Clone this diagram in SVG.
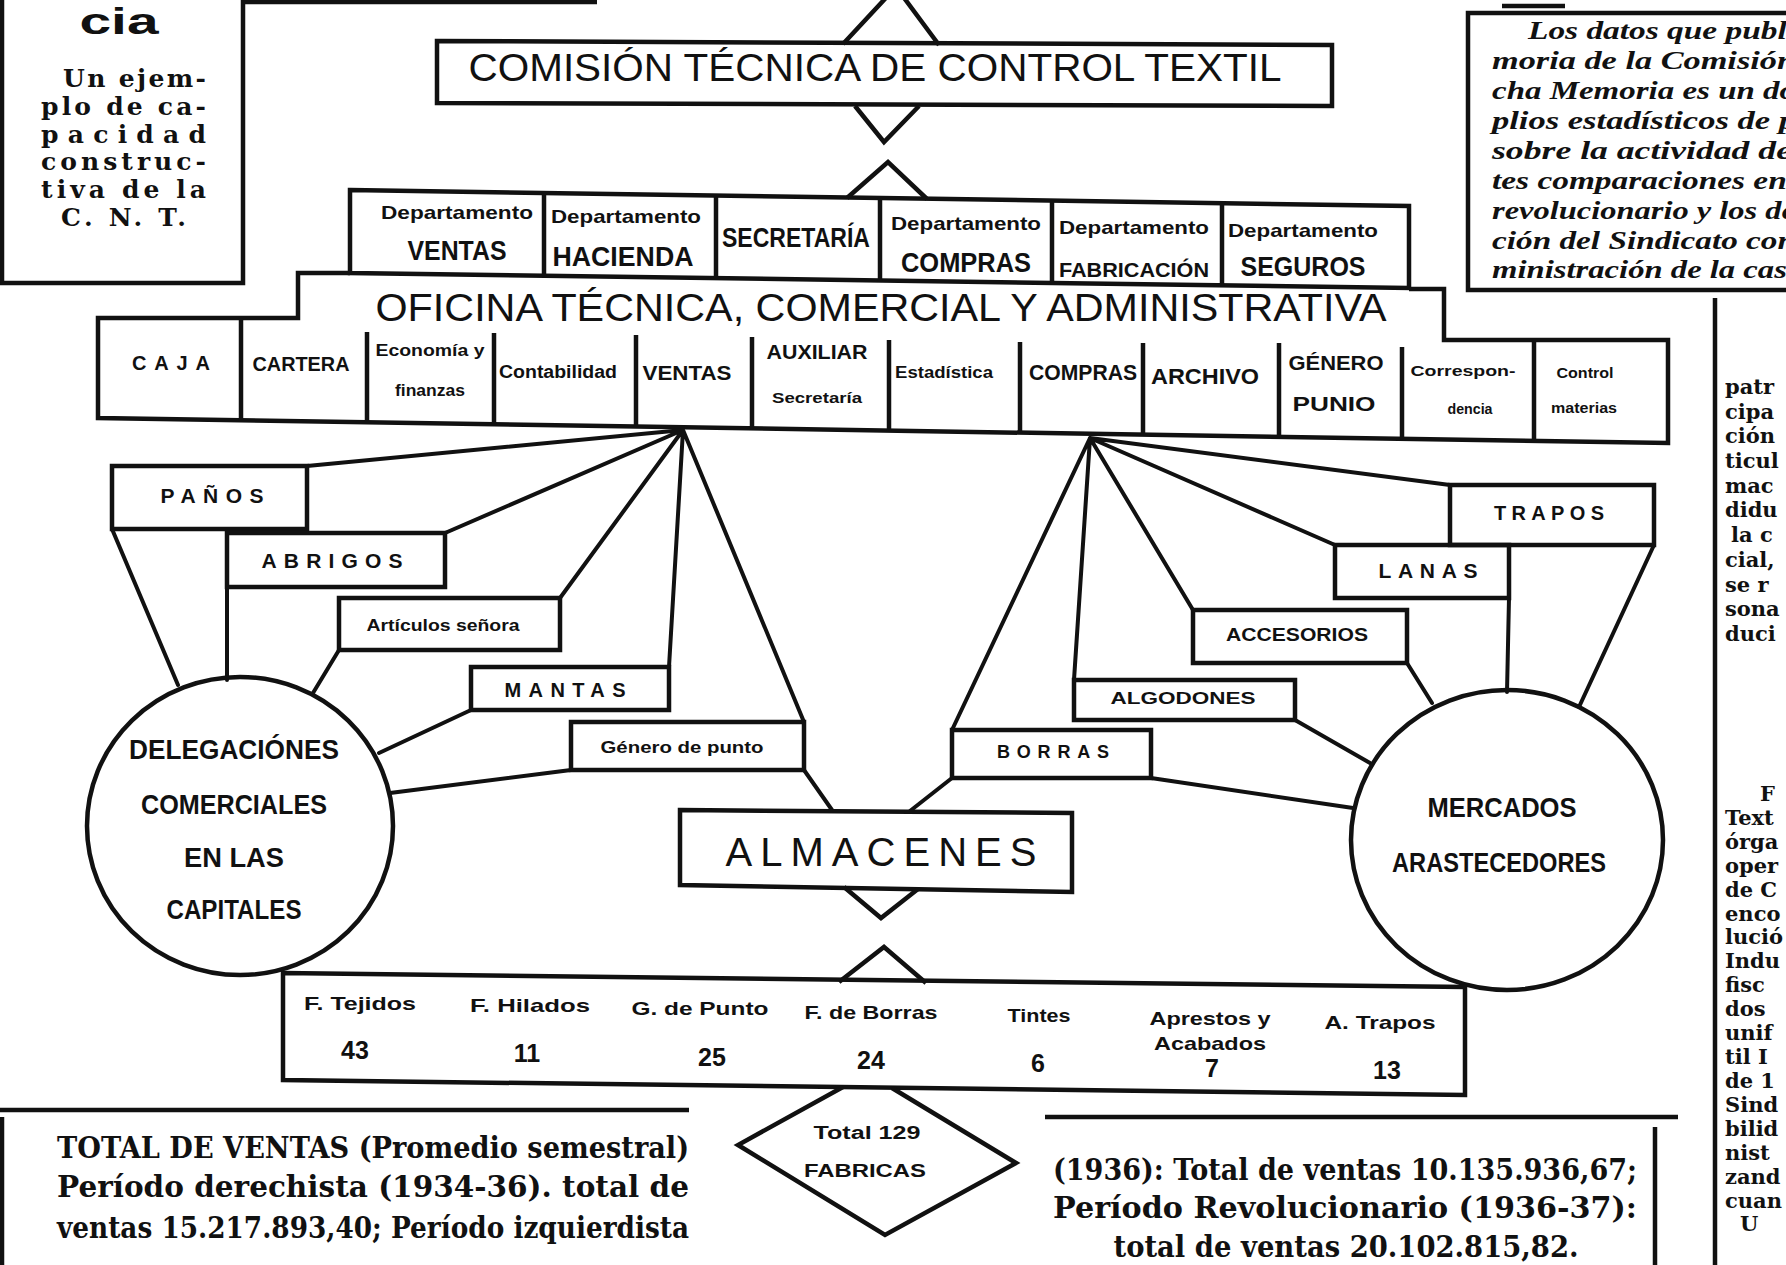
<svg xmlns="http://www.w3.org/2000/svg" width="1786" height="1265" viewBox="0 0 1786 1265">
<defs><style>
.bx{fill:none;stroke:#111;stroke-width:4.5;stroke-linejoin:miter}
.ln{fill:none;stroke:#111;stroke-width:4;stroke-linecap:round}
text{fill:#111;text-anchor:middle;dominant-baseline:central}
.sa{font-family:"Liberation Sans",Arial,sans-serif}
.sb{font-family:"Liberation Sans",Arial,sans-serif;font-weight:bold}
.se{font-family:"DejaVu Serif","Liberation Serif",serif;font-weight:bold}
.it{font-family:"Liberation Serif",serif;font-weight:bold;font-style:italic;text-anchor:start}
.st{text-anchor:start}
</style></defs>
<rect width="1786" height="1265" fill="#fff"/>

<g id="sidebar-left">
<path class="bx" d="M2,0 V283 H243 V0"/>
<path class="bx" d="M243,2 H597"/>
<text class="sb" x="119" y="21" font-size="37" textLength="79" lengthAdjust="spacingAndGlyphs">cia</text>
<g class="se st" font-size="25">
<text class="se st" x="63" y="78" textLength="143" lengthAdjust="spacing">Un ejem-</text>
<text class="se st" x="41" y="106" textLength="165" lengthAdjust="spacing">plo de ca-</text>
<text class="se st" x="41" y="134" textLength="165" lengthAdjust="spacing">pacidad</text>
<text class="se st" x="41" y="161" textLength="165" lengthAdjust="spacing">construc-</text>
<text class="se st" x="41" y="189" textLength="165" lengthAdjust="spacing">tiva de la</text>
<text class="se st" x="61" y="217" textLength="125" lengthAdjust="spacing">C. N. T.</text>
</g>
</g>

<g id="sidebar-right">
<path class="bx" d="M1786,13 H1468 V290 H1786" stroke-width="5"/>
<path class="bx" d="M1502,6 H1565" stroke-width="3"/>
<g font-size="26">
<text class="it" x="1528" y="30" textLength="268" lengthAdjust="spacingAndGlyphs">Los datos que publi</text>
<text class="it" x="1492" y="60" textLength="304" lengthAdjust="spacingAndGlyphs">moria de la Comisión</text>
<text class="it" x="1492" y="90" textLength="304" lengthAdjust="spacingAndGlyphs">cha Memoria es un do</text>
<text class="it" x="1492" y="120" textLength="304" lengthAdjust="spacingAndGlyphs">plios estadísticos de p</text>
<text class="it" x="1492" y="150" textLength="300" lengthAdjust="spacingAndGlyphs">sobre la actividad de</text>
<text class="it" x="1492" y="180" textLength="304" lengthAdjust="spacingAndGlyphs">tes comparaciones ent</text>
<text class="it" x="1492" y="210" textLength="304" lengthAdjust="spacingAndGlyphs">revolucionario y los de</text>
<text class="it" x="1492" y="240" textLength="304" lengthAdjust="spacingAndGlyphs">ción del Sindicato con</text>
<text class="it" x="1492" y="269" textLength="304" lengthAdjust="spacingAndGlyphs">ministración de la cast</text>
</g>
</g>

<g id="column-right">
<path class="bx" d="M1715,298 V1265"/>
<g font-size="21">
<text class="se st" x="1725" y="386">patr</text>
<text class="se st" x="1725" y="411">cipa</text>
<text class="se st" x="1725" y="435">ción</text>
<text class="se st" x="1725" y="460">ticul</text>
<text class="se st" x="1725" y="485">mac</text>
<text class="se st" x="1725" y="509">didu</text>
<text class="se st" x="1731" y="534">la c</text>
<text class="se st" x="1725" y="559">cial,</text>
<text class="se st" x="1725" y="584">se r</text>
<text class="se st" x="1725" y="608">sona</text>
<text class="se st" x="1725" y="633">duci</text>
<text class="se st" x="1760" y="793">F</text>
<text class="se st" x="1725" y="817">Text</text>
<text class="se st" x="1725" y="841">órga</text>
<text class="se st" x="1725" y="865">oper</text>
<text class="se st" x="1725" y="889">de C</text>
<text class="se st" x="1725" y="913">enco</text>
<text class="se st" x="1725" y="936">lució</text>
<text class="se st" x="1725" y="960">Indu</text>
<text class="se st" x="1725" y="984">fisc</text>
<text class="se st" x="1725" y="1008">dos</text>
<text class="se st" x="1725" y="1032">unif</text>
<text class="se st" x="1725" y="1056">til I</text>
<text class="se st" x="1725" y="1080">de 1</text>
<text class="se st" x="1725" y="1104">Sind</text>
<text class="se st" x="1725" y="1128">bilid</text>
<text class="se st" x="1725" y="1152">nist</text>
<text class="se st" x="1725" y="1176">zand</text>
<text class="se st" x="1725" y="1200">cuan</text>
<text class="se st" x="1740" y="1223">U</text>
</g>
</g>

<g id="comision">
<path class="bx" d="M843,44 L896,-13 L939,45"/>
<path class="bx" d="M437,41 L1332,45 L1332,106 L437,103 Z"/>
<path class="bx" d="M855,106 L884,142 L919,106"/>
<text class="sa" x="875" y="68" font-size="38" textLength="813" lengthAdjust="spacingAndGlyphs">COMISIÓN TÉCNICA DE CONTROL TEXTIL</text>
</g>

<g id="departamentos">
<path class="bx" d="M847,198 L888,162 L927,199"/>
<path class="bx" d="M350,190 L1409,206 L1409,288 L350,273 Z"/>
<path class="bx" d="M544,193 V276 M716,196 V278 M880,198 V281 M1052,201 V283 M1222,203 V285"/>
<g class="sb">
<text x="457" y="212" font-size="19" textLength="152" lengthAdjust="spacingAndGlyphs">Departamento</text>
<text class="sa" x="457" y="251" font-size="27" textLength="99" lengthAdjust="spacingAndGlyphs">VENTAS</text>
<text x="626" y="216" font-size="19" textLength="150" lengthAdjust="spacingAndGlyphs">Departamento</text>
<text class="sa" x="623" y="257" font-size="27" textLength="141" lengthAdjust="spacingAndGlyphs">HACIENDA</text>
<text class="sa" x="796" y="238" font-size="27" textLength="148" lengthAdjust="spacingAndGlyphs">SECRETARÍA</text>
<text x="966" y="223" font-size="19" textLength="150" lengthAdjust="spacingAndGlyphs">Departamento</text>
<text class="sa" x="966" y="263" font-size="27" textLength="130" lengthAdjust="spacingAndGlyphs">COMPRAS</text>
<text x="1134" y="227" font-size="19" textLength="150" lengthAdjust="spacingAndGlyphs">Departamento</text>
<text class="sa" x="1134" y="269" font-size="21" textLength="150" lengthAdjust="spacingAndGlyphs">FABRICACIÓN</text>
<text x="1303" y="230" font-size="19" textLength="150" lengthAdjust="spacingAndGlyphs">Departamento</text>
<text class="sa" x="1303" y="267" font-size="27" textLength="125" lengthAdjust="spacingAndGlyphs">SEGUROS</text>
</g>
</g>

<g id="oficina">
<path class="bx" d="M350,273 H298 V318 H98 V418 L1668,443 V340 H1444 V289 H1409"/>
<text class="sa" x="881" y="307" font-size="39" textLength="1011" lengthAdjust="spacingAndGlyphs">OFICINA TÉCNICA, COMERCIAL Y ADMINISTRATIVA</text>
<path class="bx" d="M241,319 V420 M367,332 V422 M494,333 V424 M636,335 V427 M752,337 V428 M889,340 V431 M1020,342 V433 M1143,343 V435 M1279,343 V437 M1402,347 V439 M1534,342 V441"/>
<g class="sb">
<text x="171" y="363" font-size="20" textLength="78" lengthAdjust="spacing">CAJA</text>
<text x="301" y="363" font-size="21" textLength="97" lengthAdjust="spacingAndGlyphs">CARTERA</text>
<text x="430" y="350" font-size="17" textLength="109" lengthAdjust="spacingAndGlyphs">Economía y</text>
<text x="430" y="390" font-size="16" textLength="70" lengthAdjust="spacingAndGlyphs">finanzas</text>
<text x="558" y="372" font-size="18" textLength="118" lengthAdjust="spacingAndGlyphs">Contabilidad</text>
<text x="687" y="372" font-size="21" textLength="89" lengthAdjust="spacingAndGlyphs">VENTAS</text>
<text x="817" y="352" font-size="20" textLength="101" lengthAdjust="spacingAndGlyphs">AUXILIAR</text>
<text x="817" y="397" font-size="15" textLength="90" lengthAdjust="spacingAndGlyphs">Secretaría</text>
<text x="944" y="372" font-size="16" textLength="98" lengthAdjust="spacingAndGlyphs">Estadística</text>
<text x="1083" y="372" font-size="22" textLength="108" lengthAdjust="spacingAndGlyphs">COMPRAS</text>
<text x="1205" y="376" font-size="22" textLength="108" lengthAdjust="spacingAndGlyphs">ARCHIVO</text>
<text x="1336" y="362" font-size="21" textLength="95" lengthAdjust="spacingAndGlyphs">GÉNERO</text>
<text x="1334" y="403" font-size="21" textLength="83" lengthAdjust="spacingAndGlyphs">PUNIO</text>
<text x="1463" y="370" font-size="15" textLength="105" lengthAdjust="spacingAndGlyphs">Correspon-</text>
<text x="1470" y="408" font-size="15" textLength="45" lengthAdjust="spacingAndGlyphs">dencia</text>
<text x="1585" y="372" font-size="15" textLength="57" lengthAdjust="spacingAndGlyphs">Control</text>
<text x="1584" y="408" font-size="14" textLength="66" lengthAdjust="spacingAndGlyphs">materias</text>
</g>
</g>

<g id="connectors">
<path class="ln" d="M683,430 L307,466 M683,430 L445,533 M683,430 L560,598 M683,430 L669,667 M683,430 L804,722"/>
<path class="ln" d="M804,770 L832,810"/>
<path class="ln" d="M112,529 L178,685 M227,587 L227,680 M339,650 L313,693 M471,710 L379,753 M571,770 L390,793"/>
<path class="ln" d="M1090,438 L1450,485 M1090,438 L1335,545 M1090,438 L1193,610 M1090,438 L1074,680 M1090,438 L952,730"/>
<path class="ln" d="M952,778 L910,811"/>
<path class="ln" d="M1151,778 L1353,808 M1295,720 L1370,763 M1407,663 L1432,703 M1509,598 L1507,692 M1654,545 L1579,707"/>
</g>

<g id="panos"><rect class="bx" x="112" y="466" width="195" height="63"/>
<text class="sb" x="212" y="495" font-size="21" textLength="103" lengthAdjust="spacing">PAÑOS</text></g>
<g id="abrigos"><rect class="bx" x="227" y="533" width="218" height="54"/>
<text class="sb" x="332" y="560" font-size="21" textLength="141" lengthAdjust="spacing">ABRIGOS</text></g>
<g id="articulos"><rect class="bx" x="339" y="598" width="221" height="52"/>
<text class="sb" x="443" y="625" font-size="16" textLength="153" lengthAdjust="spacingAndGlyphs">Artículos señora</text></g>
<g id="mantas"><rect class="bx" x="471" y="667" width="198" height="43"/>
<text class="sb" x="565" y="690" font-size="20" textLength="121" lengthAdjust="spacing">MANTAS</text></g>
<g id="genero"><rect class="bx" x="571" y="722" width="233" height="48"/>
<text class="sb" x="682" y="747" font-size="16" textLength="163" lengthAdjust="spacingAndGlyphs">Género de punto</text></g>

<g id="delegaciones">
<ellipse class="bx" cx="240" cy="826" rx="153" ry="149"/>
<g class="sb" font-size="27">
<text x="234" y="750" textLength="210" lengthAdjust="spacingAndGlyphs">DELEGACIÓNES</text>
<text x="234" y="805" textLength="186" lengthAdjust="spacingAndGlyphs">COMERCIALES</text>
<text x="234" y="858" textLength="100" lengthAdjust="spacingAndGlyphs">EN LAS</text>
<text x="234" y="910" textLength="135" lengthAdjust="spacingAndGlyphs">CAPITALES</text>
</g>
</g>

<g id="trapos"><rect class="bx" x="1450" y="485" width="204" height="60"/>
<text class="sb" x="1549" y="513" font-size="20" textLength="110" lengthAdjust="spacing">TRAPOS</text></g>
<g id="lanas"><rect class="bx" x="1335" y="545" width="174" height="53"/>
<text class="sb" x="1428" y="570" font-size="21" textLength="99" lengthAdjust="spacing">LANAS</text></g>
<g id="accesorios"><rect class="bx" x="1193" y="610" width="214" height="53"/>
<text class="sb" x="1297" y="635" font-size="18" textLength="142" lengthAdjust="spacingAndGlyphs">ACCESORIOS</text></g>
<g id="algodones"><rect class="bx" x="1074" y="680" width="221" height="40"/>
<text class="sb" x="1183" y="698" font-size="17" textLength="145" lengthAdjust="spacingAndGlyphs">ALGODONES</text></g>
<g id="borras"><rect class="bx" x="952" y="730" width="199" height="48"/>
<text class="sb" x="1053" y="752" font-size="18" textLength="112" lengthAdjust="spacing">BORRAS</text></g>

<g id="mercados">
<ellipse class="bx" cx="1507" cy="840" rx="156" ry="150"/>
<g class="sb" font-size="27">
<text x="1502" y="808" textLength="149" lengthAdjust="spacingAndGlyphs">MERCADOS</text>
<text x="1499" y="863" textLength="214" lengthAdjust="spacingAndGlyphs">ARASTECEDORES</text>
</g>
</g>

<g id="almacenes">
<path class="bx" d="M680,810 L1072,813 L1072,892 L680,885 Z"/>
<path class="bx" d="M844,887 L881,918 L918,889"/>
<text class="sa" x="881" y="852" font-size="40" textLength="311" lengthAdjust="spacing">ALMACENES</text>
</g>

<g id="fabricas">
<path class="bx" d="M839,982 L884,947 L926,983"/>
<path class="bx" d="M283,973 L1465,987 L1465,1095 L283,1080 Z"/>
<g class="sb" font-size="19">
<text x="360" y="1003" textLength="112" lengthAdjust="spacingAndGlyphs">F. Tejidos</text>
<text x="530" y="1005" textLength="120" lengthAdjust="spacingAndGlyphs">F. Hilados</text>
<text x="700" y="1008" textLength="137" lengthAdjust="spacingAndGlyphs">G. de Punto</text>
<text x="871" y="1012" textLength="133" lengthAdjust="spacingAndGlyphs">F. de Borras</text>
<text x="1039" y="1015" textLength="63" lengthAdjust="spacingAndGlyphs">Tintes</text>
<text x="1210" y="1018" textLength="121" lengthAdjust="spacingAndGlyphs">Aprestos y</text>
<text x="1210" y="1043" textLength="112" lengthAdjust="spacingAndGlyphs">Acabados</text>
<text x="1380" y="1022" textLength="111" lengthAdjust="spacingAndGlyphs">A. Trapos</text>
</g>
<g class="sb" font-size="25">
<text x="355" y="1050">43</text>
<text x="527" y="1053">11</text>
<text x="712" y="1057">25</text>
<text x="871" y="1060">24</text>
<text x="1038" y="1063">6</text>
<text x="1212" y="1068">7</text>
<text x="1387" y="1070">13</text>
</g>
</g>

<g id="total">
<path class="bx" d="M843,1087 L738,1145 L885,1235 L1016,1163 L892,1088"/>
<text class="sb" x="867" y="1133" font-size="18" textLength="107" lengthAdjust="spacingAndGlyphs">Total 129</text>
<text class="sb" x="865" y="1170" font-size="19" textLength="122" lengthAdjust="spacingAndGlyphs">FABRICAS</text>
</g>

<g id="ventas-left">
<path class="bx" d="M0,1110 H689"/>
<path class="bx" d="M2,1117 V1265"/>
<g class="se" font-size="29">
<text x="373" y="1148" textLength="632" lengthAdjust="spacingAndGlyphs">TOTAL DE VENTAS (Promedio semestral)</text>
<text x="373" y="1187" textLength="632" lengthAdjust="spacingAndGlyphs">Período derechista (1934-36). total de</text>
<text x="373" y="1228" textLength="632" lengthAdjust="spacingAndGlyphs">ventas 15.217.893,40; Período izquierdista</text>
</g>
</g>

<g id="ventas-right">
<path class="bx" d="M1045,1117 H1678"/>
<path class="bx" d="M1655,1127 V1265"/>
<g class="se" font-size="29">
<text x="1345" y="1170" textLength="584" lengthAdjust="spacingAndGlyphs">(1936): Total de ventas 10.135.936,67;</text>
<text x="1345" y="1208" textLength="584" lengthAdjust="spacingAndGlyphs">Período Revolucionario (1936-37):</text>
<text x="1346" y="1247" textLength="465" lengthAdjust="spacingAndGlyphs">total de ventas 20.102.815,82.</text>
</g>
</g>
</svg>
